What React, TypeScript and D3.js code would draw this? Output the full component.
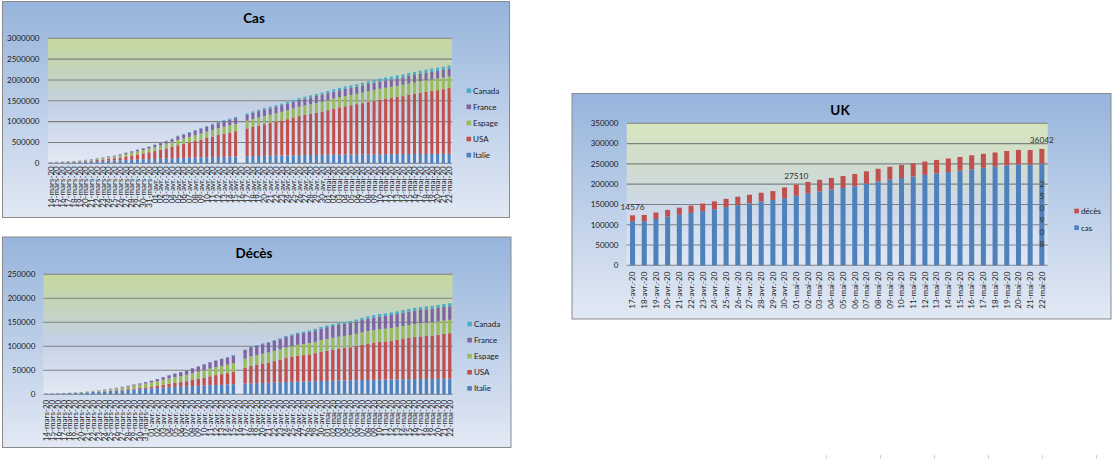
import * as d3 from 'd3';

// --- categories -------------------------------------------------------
const casDates = [
  '14-mars-20', '15-mars-20', '16-mars-20', '17-mars-20', '18-mars-20', '19-mars-20', '20-mars-20', '21-mars-20', '22-mars-20',
  '23-mars-20', '24-mars-20', '25-mars-20', '26-mars-20', '27-mars-20', '28-mars-20', '29-mars-20', '30-mars-20', '31-mars-20',
  '01-avr.-20', '02-avr.-20', '03-avr.-20', '04-avr.-20', '05-avr.-20', '06-avr.-20', '07-avr.-20', '08-avr.-20', '09-avr.-20', '10-avr.-20',
  '11-avr.-20', '12-avr.-20', '13-avr.-20', '14-avr.-20', '15-avr.-20', '16-avr.-20', '17-avr.-20', '18-avr.-20', '19-avr.-20', '20-avr.-20',
  '21-avr.-20', '22-avr.-20', '23-avr.-20', '24-avr.-20', '25-avr.-20', '26-avr.-20', '27-avr.-20', '28-avr.-20', '29-avr.-20', '30-avr.-20',
  '01-mai-20', '02-mai-20', '03-mai-20', '04-mai-20', '05-mai-20', '06-mai-20', '07-mai-20', '08-mai-20', '09-mai-20', '10-mai-20', '11-mai-20',
  '12-mai-20', '13-mai-20', '14-mai-20', '15-mai-20', '16-mai-20', '17-mai-20', '18-mai-20', '19-mai-20', '20-mai-20', '21-mai-20', '22-mai-20',
];

const ukDates = [
  '17-avr.-20', '18-avr.-20', '19-avr.-20', '20-avr.-20', '21-avr.-20', '22-avr.-20', '23-avr.-20', '24-avr.-20', '25-avr.-20',
  '26-avr.-20', '27-avr.-20', '28-avr.-20', '29-avr.-20', '30-avr.-20',
  '01-mai-20', '02-mai-20', '03-mai-20', '04-mai-20', '05-mai-20', '06-mai-20', '07-mai-20', '08-mai-20', '09-mai-20', '10-mai-20', '11-mai-20',
  '12-mai-20', '13-mai-20', '14-mai-20', '15-mai-20', '16-mai-20', '17-mai-20', '18-mai-20', '19-mai-20', '20-mai-20', '21-mai-20', '22-mai-20',
];

const casTicks = [0, 500000, 1000000, 1500000, 2000000, 2500000, 3000000];
const decesTicks = [0, 50000, 100000, 150000, 200000, 250000];
const ukTicks = [0, 50000, 100000, 150000, 200000, 250000, 300000, 350000];

const countries = ['Italie', 'USA', 'Espage', 'France', 'Canada'];
const countryColors = ['#4f81bd', '#c0504d', '#9bbb59', '#8064a2', '#4bacc6'];

// --- cas (cumul) ---------------------------------------------------------
const casItalie = [
  17660, 21157, 24747, 27980, 31506, 35713, 41035, 47021, 53578, 59138, 63927, 69176, 74386, 80589, 86498, 92472, 97689, 101739, 105792,
  110574, 115242, 119827, 124632, 128948, 132547, 135586, 139422, 143626, 147577, 152271, 156363, 159516, 162488, null,
  168941, 172434, 175925, 178972, 181228, 183957, 187327, 189973, 192994, 195351, 197675, 199414, 201505, 203591, 205463,
  207428, 209328, 210717, 211938, 213013, 214457, 215858, 217185, 218268, 219070, 219814, 221216, 222104, 223096, 223885,
  224760, 225435, 225886, 226699, 227364, 228006,
];
const casUsa = [
  2179, 2726, 3499, 4632, 6421, 7786, 13680, 19101, 25493, 33276, 43847, 53740, 65778, 83836, 101657, 121465, 140909, 161831, 188172,
  213242, 243622, 275367, 308650, 336802, 366317, 397121, 428654, 462780, 496535, 526396, 555313, 580619, 607670, null,
  667801, 699706, 732197, 759086, 784326, 811865, 840351, 869170, 905358, 938154, 965785, 988197, 1012582, 1039909, 1069424,
  1103461, 1132539, 1158040, 1180375, 1204351, 1228603, 1257023, 1283929, 1309550, 1329260, 1347881, 1369376, 1390406, 1417774, 1442824,
  1467820, 1486757, 1508308, 1528568, 1551853, 1577147,
];
const casEspagne = [
  5232, 6391, 7798, 9942, 11748, 13910, 17963, 20410, 25374, 28768, 35136, 39885, 49515, 57786, 65719, 73235, 80110, 87956, 95923,
  104118, 112065, 119199, 126168, 131646, 136675, 141942, 148220, 153222, 158273, 163027, 166831, 170099, 172541, null,
  184948, 190839, 191726, 198674, 200210, 204178, 208389, 213024, 219764, 223759, 226629, 229422, 232128, 236899, 239639,
  242988, 245567, 247122, 248301, 250561, 253682, 256855, 260117, 262783, 264663, 268143, 269520, 271095, 272646, 274367,
  276505, 277719, 278188, 278803, 279524, 280117,
];
const casFrance = [
  3661, 4469, 4499, 6633, 7652, 9043, 10871, 12612, 14282, 16018, 19856, 22304, 25233, 29155, 32964, 37575, 40174, 44550, 52128,
  56989, 59105, 64338, 89953, 92839, 98010, 109069, 112950, 117749, 124869, 129654, 132591, 137150, 143303, null,
  147969, 149232, 151793, 154097, 155383, 158168, 155980, 158303, 159952, 161644, 162220, 165963, 169053, 166543, 167299,
  167305, 168518, 168925, 169583, 170694, 174191, 174224, 176079, 176658, 176782, 177094, 178225, 178994, 179630, 179630,
  179927, 180051, 180933, 181575, 181700, 181951,
];
const casCanada = [
  198, 252, 257, 415, 478, 657, 800, 943, 1277, 1469, 2088, 2790, 3251, 4042, 4682, 5576, 6280, 7398, 8527,
  9560, 11284, 12437, 12978, 15756, 16563, 17872, 19141, 20654, 22059, 23316, 24298, 25680, 26897, null,
  30106, 32412, 33383, 35056, 36829, 38422, 40179, 42110, 43888, 45354, 46895, 48033, 49616, 51150, 52865,
  54457, 56343, 57926, 59474, 60772, 62046, 63496, 64922, 66434, 67674, 68918, 70091, 71264, 72419, 73568,
  74613, 75864, 77002, 78072, 79101, 80142,
];

// --- décès (cumul) -------------------------------------------------------
const decesItalie = [
  1266, 1441, 1809, 2158, 2503, 2978, 3405, 4032, 4825, 5476, 6077, 6820, 7503, 8215, 9134, 10023, 10779, 11591, 12428,
  13155, 13915, 14681, 15362, 15887, 16523, 17127, 17669, 18279, 18849, 19468, 19899, 20465, 21067, null,
  22170, 22745, 23227, 23660, 24114, 24648, 25085, 25549, 25969, 26384, 26644, 26977, 27359, 27682, 27967,
  28236, 28710, 28884, 29079, 29315, 29684, 29958, 30201, 30395, 30560, 30739, 30911, 31106, 31368, 31610,
  31763, 31908, 32007, 32169, 32330, 32486,
];
const decesUsa = [
  47, 57, 68, 91, 117, 162, 212, 277, 359, 457, 577, 783, 1027, 1293, 1588, 2026, 2467, 2978, 3873,
  4757, 5926, 7087, 8407, 9619, 10783, 12722, 14695, 16478, 18586, 20463, 22020, 23529, 25832, null,
  32916, 36773, 38664, 40661, 42094, 44444, 46622, 49954, 51949, 53755, 54881, 56219, 58355, 60967, 62996,
  64943, 66369, 67682, 68922, 71064, 73455, 75662, 77180, 78795, 79526, 80682, 82376, 84119, 85898, 87530,
  88754, 89562, 90347, 91921, 93439, 94702,
];
const decesEspagne = [
  133, 195, 289, 342, 533, 623, 830, 1043, 1375, 1772, 2311, 2808, 3647, 4365, 5138, 5982, 6803, 7716, 8464,
  9387, 10348, 11198, 11947, 12641, 13341, 14045, 14792, 15447, 16081, 16606, 17209, 17756, 18056, null,
  19315, 20002, 20043, 20453, 20852, 21282, 21717, 22157, 22524, 22902, 23190, 23521, 23822, 24275, 24543,
  24543, 25100, 25264, 25428, 25613, 25857, 26070, 26299, 26478, 26621, 26744, 26920, 27104, 27321, 27459,
  27563, 27650, 27709, 27778, 27888, 27940,
];
const decesFrance = [
  79, 91, 91, 149, 149, 149, 244, 451, 563, 676, 862, 1102, 1333, 1698, 1997, 2317, 2611, 3030, 3532,
  4414, 5398, 6520, 7574, 8093, 8926, 10343, 10887, 12228, 13215, 13851, 14412, 14986, 15729, null,
  17920, 18681, 19323, 19718, 20265, 20796, 21340, 21856, 22245, 22614, 22856, 23293, 23660, 24087, 24376,
  24594, 24760, 24895, 25201, 25531, 25809, 26230, 26310, 26380, 26643, 26991, 27074, 27425, 27529, 27532,
  27625, 28108, 28022, 28132, 28215, 28289,
];
const decesCanada = [
  1, 1, 1, 4, 5, 8, 9, 12, 19, 21, 25, 26, 30, 38, 54, 61, 64, 80, 101,
  109, 139, 179, 218, 259, 339, 375, 407, 503, 557, 653, 714, 781, 854, null,
  1048, 1310, 1470, 1587, 1691, 1908, 2075, 2251, 2465, 2560, 2707, 2941, 3213, 3391, 3529,
  3682, 3842, 3991, 4167, 4280, 4566, 4628, 4871, 4997, 5209, 5300, 5472, 5600, 5702, 5800,
  5903, 5960, 6028, 6150, 6250, 6355,
];

// --- UK --------------------------------------------------------------------
const ukCas = [
  108692, 108692, 114217, 120067, 124743, 129044, 133495, 138078, 143464, 148377, 152840, 157149, 161145, 165221,
  171253, 177454, 182260, 186599, 190584, 194990, 201101, 206715, 211364, 215260, 219183, 223060, 226463, 229705,
  233151, 236711, 240161, 243303, 246406, 248818, 248293, 250908,
];
const ukDeces = [
  14576, 15464, 16060, 16509, 17337, 18100, 18738, 19506, 20319, 20732, 21092, 21678, 21800, 26771,
  27510, 28131, 28446, 28734, 29427, 30076, 30615, 31241, 31587, 31855, 32065, 32692, 33186, 33614,
  33998, 34466, 34636, 34796, 35341, 35704, 35800, 36042,
];
const ukDecesLabelIdx = [0, 14, 35];
const ukCasLabelIdx = [35];

const sheetTicks = [826, 880, 934, 988, 1042, 1096];

type Series = { name: string; color: string; values: (number | null)[] };
type PointLabel = { series: number; index: number; mode: 'top' | 'vertical' };

interface PanelProps {
  box: { x: number; y: number; w: number; h: number };
  plot: { x0: number; x1: number; y0: number; y1: number };
  title: string;
  titleX: number;
  titleY: number;
  dates: string[];
  ticks: number[];
  tickX: number;
  series: Series[];
  pad: number;
  labelGap: number;
  legendX: number;
  legendY: number;
  legendDy: number;
  plotFill: string;
  pointLabels?: PointLabel[];
}

function StackPanel(p: PanelProps) {
  const x = d3.scaleBand<string>()
    .domain(p.dates)
    .range([p.plot.x0, p.plot.x1])
    .paddingInner(p.pad)
    .paddingOuter(p.pad / 2);
  const y = d3.scaleLinear()
    .domain([0, p.ticks[p.ticks.length - 1]])
    .range([p.plot.y1, p.plot.y0]);

  const keys = p.series.map(s => s.name);
  const rows = p.dates.map((d, i) => {
    const r: Record<string, any> = { date: d };
    p.series.forEach(s => { r[s.name] = s.values[i] ?? 0; });
    r.missing = p.series.every(s => s.values[i] == null);
    return r;
  });
  const stacked = d3.stack<Record<string, any>>().keys(keys)(rows);
  const bw = x.bandwidth();

  return (
    <g>
      <rect x={p.box.x + 0.5} y={p.box.y + 0.5} width={p.box.w} height={p.box.h} fill="url(#panelBg)" stroke="#8a8a8a" />
      <rect x={p.plot.x0} y={p.plot.y0} width={p.plot.x1 - p.plot.x0} height={p.plot.y1 - p.plot.y0} fill={p.plotFill} />

      {p.ticks.map(t => (
        <g key={t}>
          <line x1={p.plot.x0} x2={p.plot.x1} y1={y(t)} y2={y(t)} stroke="#808080" strokeWidth={1.1} />
          <text x={p.tickX} y={y(t)} dy="0.35em" textAnchor="end" fontSize={8} fill="#1a1a1a">{t}</text>
        </g>
      ))}

      {stacked.map((layer, si) => (
        <g key={layer.key} fill={p.series[si].color}>
          {layer.map((d, i) => rows[i].missing ? null : (
            <rect key={i} x={x(p.dates[i])} y={y(d[1])} width={bw} height={Math.max(0, y(d[0]) - y(d[1]))} />
          ))}
        </g>
      ))}

      {p.dates.map(d => (
        <text key={d} transform={`translate(${(x(d) ?? 0) + bw / 2},${p.plot.y1 + p.labelGap}) rotate(-90)`}
          dy="0.35em" textAnchor="end" fontSize={8} fill="#2a2a2a">{d}</text>
      ))}

      {(p.pointLabels ?? []).map(pl => {
        const d = stacked[pl.series][pl.index];
        const cx = (x(p.dates[pl.index]) ?? 0) + bw / 2;
        const v = p.series[pl.series].values[pl.index] ?? 0;
        if (pl.mode === 'top') {
          return <text key={`${pl.series}-${pl.index}`} x={cx} y={y(d[1]) - 5.5} textAnchor="middle" fontSize={8.3} fill="#303030">{v}</text>;
        }
        const chars = String(v).split('');
        const mid = (y(d[0]) + y(d[1])) / 2;
        return (
          <text key={`${pl.series}-${pl.index}`} textAnchor="middle" fontSize={8.3} fill="#303030">
            {chars.map((c, k) => (
              <tspan key={k} x={cx} y={mid + (k - (chars.length - 1) / 2) * 12} dy="0.35em">{c}</tspan>
            ))}
          </text>
        );
      })}

      <text x={p.titleX} y={p.titleY} textAnchor="middle" fontSize={13.5} fontWeight="bold" fill="#000">{p.title}</text>

      {p.series.slice().reverse().map((s, i) => (
        <g key={s.name} transform={`translate(${p.legendX},${p.legendY + i * p.legendDy})`}>
          <rect x={0} y={-2.3} width={4.6} height={4.6} fill={s.color} />
          <text x={6.6} y={0} dy="0.35em" fontSize={8} fill="#1a1a1a">{s.name}</text>
        </g>
      ))}
    </g>
  );
}

export default function App() {
  const casValues = [casItalie, casUsa, casEspagne, casFrance, casCanada];
  const decesValues = [decesItalie, decesUsa, decesEspagne, decesFrance, decesCanada];
  const casSeries = countries.map((name, i) => ({ name, color: countryColors[i], values: casValues[i] }));
  const decesSeries = countries.map((name, i) => ({ name, color: countryColors[i], values: decesValues[i] }));
  const ukSeries = [
    { name: 'cas', color: '#4f81bd', values: ukCas },
    { name: 'décès', color: '#c0504d', values: ukDeces },
  ];
  const ukLabels: PointLabel[] = [
    ...ukDecesLabelIdx.map(index => ({ series: 1, index, mode: 'top' as const })),
    ...ukCasLabelIdx.map(index => ({ series: 0, index, mode: 'vertical' as const })),
  ];

  return (
    <svg width={1116} height={459} style={{ position: 'absolute', left: 0, top: 0, background: '#fff' }}
      fontFamily="Lato, 'Open Sans', sans-serif">
      <defs>
        <linearGradient id="panelBg" x1="0" y1="0" x2="0" y2="1">
          <stop offset="0" stopColor="#96b4dc" />
          <stop offset="1" stopColor="#e2e9f4" />
        </linearGradient>
        <linearGradient id="plotBg" x1="0" y1="0" x2="0" y2="1">
          <stop offset="0" stopColor="#c5d89c" />
          <stop offset="0.3" stopColor="#c3d4c0" />
          <stop offset="0.55" stopColor="#c4d1e6" />
          <stop offset="1" stopColor="#e3e9f4" />
        </linearGradient>
        <linearGradient id="plotBgUk" x1="0" y1="0" x2="0" y2="1">
          <stop offset="0" stopColor="#d7e5bd" />
          <stop offset="0.35" stopColor="#cfdbd3" />
          <stop offset="0.6" stopColor="#cdd9ea" />
          <stop offset="1" stopColor="#e0e7f3" />
        </linearGradient>
      </defs>

      <StackPanel
        box={{ x: 2, y: 1, w: 507, h: 216 }}
        plot={{ x0: 48, x1: 452, y0: 38.3, y1: 163.3 }}
        title="Cas" titleX={254} titleY={22.5}
        dates={casDates} ticks={casTicks} tickX={39.5}
        series={casSeries} pad={0.48} labelGap={3}
        legendX={466.5} legendY={90.7} legendDy={16.1}
        plotFill="url(#plotBg)"
      />

      <StackPanel
        box={{ x: 2, y: 236.5, w: 508.5, h: 210.5 }}
        plot={{ x0: 43.3, x1: 452.7, y0: 274.3, y1: 394.3 }}
        title="Décès" titleX={254} titleY={258.3}
        dates={casDates} ticks={decesTicks} tickX={35.3}
        series={decesSeries} pad={0.43} labelGap={5.5}
        legendX={467.3} legendY={324} legendDy={16.1}
        plotFill="url(#plotBg)"
      />

      <StackPanel
        box={{ x: 571.5, y: 93, w: 539, h: 225.5 }}
        plot={{ x0: 626.7, x1: 1047.7, y0: 123.3, y1: 265.3 }}
        title="UK" titleX={840} titleY={115}
        dates={ukDates} ticks={ukTicks} tickX={618.5}
        series={ukSeries} pad={0.57} labelGap={6.4}
        legendX={1074.3} legendY={211} legendDy={16.7}
        plotFill="url(#plotBgUk)"
        pointLabels={ukLabels}
      />

      {sheetTicks.map(t => (
        <line key={t} x1={t + 0.5} x2={t + 0.5} y1={455} y2={459} stroke="#d2d2d2" />
      ))}
    </svg>
  );
}
